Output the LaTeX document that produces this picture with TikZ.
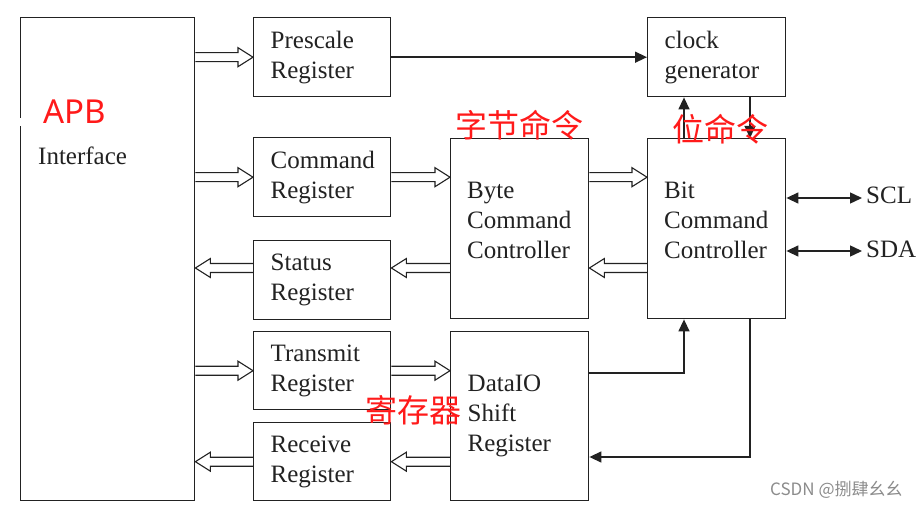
\documentclass[tikz,border=0pt]{standalone}
\usepackage{fontspec}
\setmainfont{Liberation Serif}
\newfontfamily\cjkfont{Noto Sans CJK SC}
\newfontfamily\apbfont{Noto Sans}
\usetikzlibrary{arrows.meta,calc}
\definecolor{linec}{HTML}{222222}
\definecolor{redt}{HTML}{FF1A1A}
\begin{document}
\begin{tikzpicture}[x=1pt,y=-1pt,
  lbl/.style={font=\fontsize{25}{30}\selectfont, text=linec},
  blk/.style={draw=linec, line width=1.4pt, anchor=north west, inner xsep=17pt, inner ysep=0pt, align=left, lbl},
  reg/.style={blk, text width=103pt, minimum width=137pt, minimum height=79pt},
  wreg/.style={blk, text width=104pt, minimum width=138pt, minimum height=79pt},
  inlbl/.style={lbl, anchor=west, align=left, text width=104pt, inner sep=0pt},
  arr/.style={draw=linec, line width=1.4pt, -{Triangle[length=12pt,width=11pt]}},
  darr/.style={draw=linec, line width=1.4pt, {Triangle[length=12pt,width=11pt]}-{Triangle[length=12pt,width=11pt]}},
  hollow/.style={draw=linec, line width=1.1pt, line join=miter,
    to path={let \p1=(\tikztostart), \p2=(\tikztotarget), \n1={sign(\x2-\x1)} in
      (\x1,\y1+4.5) -- ({\x2-15*\n1},\y1+4.5) -- ({\x2-15*\n1},\y1+9.5) -- (\x2,\y1)
      -- ({\x2-15*\n1},\y1-9.5) -- ({\x2-15*\n1},\y1-4.5) -- (\x1,\y1-4.5)}},
  redlbl/.style={text=redt, font=\cjkfont\fontsize{32}{32}\selectfont, inner sep=0pt}
]
\fill[white] (0,0) rectangle (922,508);
\useasboundingbox (0,0) rectangle (922,508);

% blocks
\node[blk, minimum width=174pt, minimum height=483pt] (intf) at (20,17) {};
\node[reg] (pre) at (253,17) {Prescale\\Register};
\node[reg] (cmd) at (253,137) {Command\\Register};
\node[reg] (stat) at (253,240) {Status\\Register};
\node[reg, minimum height=78pt] (trans) at (253,331) {Transmit\\Register};
\node[reg, minimum height=78pt] (recv) at (253,422) {Receive\\Register};
\node[wreg, minimum height=180pt] (byte) at (450,138) {};
\node[inlbl] (bytet) at ([xshift=17pt,yshift=8pt]byte.west) {Byte\\Command\\Controller};
\node[wreg, minimum height=169pt] (dio) at (450,331) {DataIO\\Shift\\Register};
\node[wreg] (clk) at (647,17) {clock\\generator};
\node[wreg, minimum height=180pt] (bit) at (647,138) {};
\node[inlbl] (bitt) at ([xshift=17pt,yshift=8pt]bit.west) {Bit\\Command\\Controller};

\fill[white] (16,118) rectangle (24,126);
\node[lbl, anchor=base west, inner sep=0pt] (intft) at (38,165) {Interface};

% helper coordinates
\coordinate (xa) at (684,0);
\coordinate (xb) at (750,0);
\coordinate (ya) at (0,373);
\coordinate (yb) at (0,457);
\coordinate (ys) at (0,268);
\coordinate (sclp) at (862,198);
\coordinate (sdap) at (862,251);

% hollow bus arrows
\draw[hollow] (intf.east |- pre.west) to (pre.west);
\draw[hollow] (intf.east |- cmd.west) to (cmd.west);
\draw[hollow] (stat.west |- ys) to (intf.east |- ys);
\draw[hollow] (intf.east |- trans.west) to (trans.west);
\draw[hollow] (recv.west) to (intf.east |- recv.west);
\draw[hollow] (cmd.east) to (byte.west |- cmd.east);
\draw[hollow] (byte.east |- cmd.east) to (bit.west |- cmd.east);
\draw[hollow] (bit.west |- ys) to (byte.east |- ys);
\draw[hollow] (byte.west |- ys) to (stat.east |- ys);
\draw[hollow] (trans.east) to (dio.west |- trans.east);
\draw[hollow] (dio.west |- recv.east) to (recv.east);

% solid connectors
\draw[arr] (pre.east) -- (clk.west);
\draw[arr] (bit.north -| xa) -- (clk.south -| xa);
\draw[arr] (clk.south -| xb) -- (bit.north -| xb);
\draw[arr] (dio.east |- ya) -| (bit.south -| xa);
\draw[arr] (bit.south -| xb) |- (dio.east |- yb);
\draw[darr] (bit.east |- sclp) -- (sclp);
\draw[darr] (bit.east |- sdap) -- (sdap);
\node[lbl, anchor=base west, inner sep=0pt] (scl) at ([xshift=4pt,yshift=-6pt]sclp) {SCL};
\node[lbl, anchor=base west, inner sep=0pt] (sda) at ([xshift=4pt,yshift=-7pt]sdap) {SDA};

% red annotations
\node[anchor=base west, inner sep=0pt, text=redt, font=\apbfont\fontsize{33}{33}\selectfont] (apb) at (43,124) {APB};
\node[redlbl, anchor=west] (zj) at (455,125) {字节命令};
\node[redlbl, anchor=west] (wml) at (672,129) {位命令};
\node[redlbl, anchor=west] (jcq) at (365,410) {寄存器};

% watermark
\node[anchor=west, inner sep=0pt, text=black!45, font=\cjkfont\fontsize{17}{17}\selectfont] (wm) at (770,490) {CSDN @捌肆幺幺};
\end{tikzpicture}
\end{document}
